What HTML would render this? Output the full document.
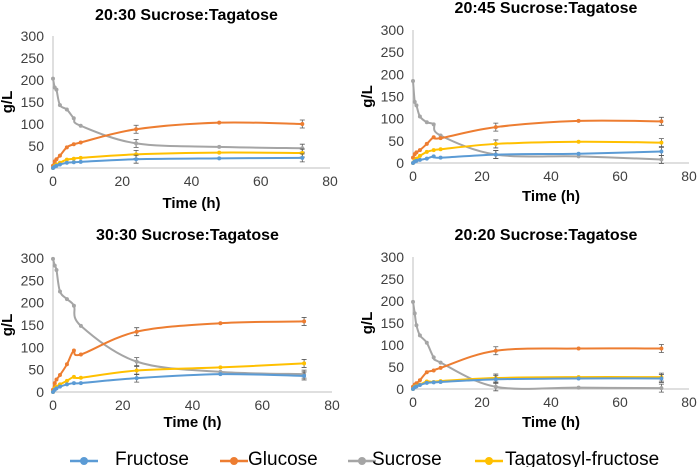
<!DOCTYPE html>
<html><head><meta charset="utf-8"><style>
body{margin:0;background:#fff;font-family:"Liberation Sans",sans-serif}
svg{display:block}
</style></head><body>
<svg id="chart" width="700" height="467" viewBox="0 0 700 467"></svg>
<script>
const times=[0,0.5,1,2,4,6,8,24,48,72];
const seriesNames=["Fructose","Glucose","Sucrose","Tagatosyl-fructose"];
const panelTitles=["20:30 Sucrose:Tagatose","20:45 Sucrose:Tagatose","30:30 Sucrose:Tagatose","20:20 Sucrose:Tagatose"];
const p1Fructose=[0,3,5,8,12,13,14,20,22,23];
const p1Glucose=[5,15,20,28,47,54,58,88,103,100];
const p1Sucrose=[203,183,178,143,133,113,96,56,48,45];
const p1Tagatosyl=[0,5,8,12,19,21,23,31,35,34];
const p2Fructose=[0,3,5,7,10,15,12,19,21,26];
const p2Glucose=[12,20,24,29,43,58,56,81,95,94];
const p2Sucrose=[185,138,130,105,92,87,62,19,15,8];
const p2Tagatosyl=[0,6,10,16,25,29,31,43,48,46];
const p3Fructose=[0,5,8,12,17,20,20,31,40,36];
const p3Glucose=[5,20,28,38,62,93,84,135,154,158];
const p3Sucrose=[298,283,273,225,208,193,148,68,45,40];
const p3Tagatosyl=[0,8,12,17,25,34,32,48,55,64];
const p4Fructose=[0,4,6,9,14,15,16,22,24,24];
const p4Glucose=[5,10,13,20,38,42,48,87,92,92];
const p4Sucrose=[198,172,145,122,105,72,60,5,3,2];
const p4Tagatosyl=[0,5,7,10,17,16,18,25,27,27];
const xTicks=[0,20,40,60,80];
const yTicks=[0,50,100,150,200,250,300];
const colors=["#5b9bd5","#ed7d31","#a5a5a5","#ffc000"];
const panelData=[[p1Fructose,p1Glucose,p1Sucrose,p1Tagatosyl],[p2Fructose,p2Glucose,p2Sucrose,p2Tagatosyl],[p3Fructose,p3Glucose,p3Sucrose,p3Tagatosyl],[p4Fructose,p4Glucose,p4Sucrose,p4Tagatosyl]];
const layouts=[{x0:53,x1:330,y0:168,y1:36,ty:20,xt:208},{x0:413,x1:689,y0:163,y1:30,ty:13,xt:201},{x0:53,x1:332,y0:392,y1:258,ty:240,xt:427},{x0:413,x1:689,y0:389,y1:257,ty:240,xt:427}];
const NS="http://www.w3.org/2000/svg";
const svg=document.getElementById('chart');
function mk(tag,attrs,parent){const e=document.createElementNS(NS,tag);for(const k in attrs)e.setAttribute(k,attrs[k]);(parent||svg).appendChild(e);return e;}
function smooth(pts){let d=`M${pts[0][0]},${pts[0][1]}`;for(let i=0;i<pts.length-1;i++){const p0=pts[i-1]||pts[i],p1=pts[i],p2=pts[i+1],p3=pts[i+2]||p2;const t=0.17;d+=` C${p1[0]+(p2[0]-p0[0])*t},${p1[1]+(p2[1]-p0[1])*t} ${p2[0]-(p3[0]-p1[0])*t},${p2[1]-(p3[1]-p1[1])*t} ${p2[0]},${p2[1]}`;}return d;}
panelData.forEach((data,pi)=>{
  const L=layouts[pi];
  const xs=v=>L.x0+(v/80)*(L.x1-L.x0);
  const ys=v=>L.y0-(v/300)*(L.y0-L.y1);
  const g=mk('g',{});
  
  
  const t=mk('text',{x:(L.x0+L.x1)/2-5,y:L.ty,'text-anchor':'middle','font-size':16,'font-weight':'bold',fill:'#000'},g);t.textContent=panelTitles[pi];
  
  
  const ax=mk('line',{x1:L.x0,y1:L.y1,x2:L.x0,y2:L.y0,stroke:'#bfbfbf','stroke-width':1},g);
  
  
  const ax2=mk('line',{x1:L.x0,y1:L.y0,x2:L.x1,y2:L.y0,stroke:'#bfbfbf','stroke-width':1},g);
  
  
  yTicks.forEach(v=>{const e=mk('text',{x:L.x0-9,y:ys(v)+5,'text-anchor':'end','font-size':14,fill:'#404040'},g);e.textContent=v;
    
    });
  xTicks.forEach(v=>{const e=mk('text',{x:xs(v),y:L.y0+18,'text-anchor':'middle','font-size':14,fill:'#404040'},g);e.textContent=v;
    
    });
  const xt=mk('text',{x:(L.x0+L.x1)/2,y:L.xt,'text-anchor':'middle','font-size':15,'font-weight':'bold',fill:'#000'},g);xt.textContent='Time (h)';
  
  
  const cy=(L.y0+L.y1)/2,cx=L.x0-41;
  const yt=mk('text',{x:cx,y:cy,transform:`rotate(-90 ${cx} ${cy})`,'text-anchor':'middle','font-size':15,'font-weight':'bold',fill:'#000'},g);yt.textContent='g/L';
  
  
  [2,1,3,0].forEach(si=>{
    const vals=data[si];
    const pts=times.map((tv,i)=>[xs(tv),ys(vals[i])]);
    const p=mk('path',{d:smooth(pts),fill:'none',stroke:colors[si],'stroke-width':2},g);
    
    
    pts.forEach((q,i)=>{
      if(i>=6&&i%2===1||i===7){const eb=mk('path',{d:`M${q[0]},${q[1]-4}V${q[1]+4}M${q[0]-2.5},${q[1]-4}h5M${q[0]-2.5},${q[1]+4}h5`,stroke:'#595959','stroke-width':0.8,fill:'none'},g);
        
        }
      const c=mk('circle',{cx:q[0],cy:q[1],r:2,fill:colors[si]},g);
      
      
    });
  });
});
const legX=[70,220,348,475],legTX=[115,248,372,505];
seriesNames.forEach((n,i)=>{
  const g=mk('g',{});
  
  
  mk('line',{x1:legX[i],y1:461,x2:legX[i]+28,y2:461,stroke:colors[i],'stroke-width':2.5},g);
  mk('circle',{cx:legX[i]+14,cy:461,r:4,fill:colors[i]},g);
  const t=mk('text',{x:legTX[i],y:465,'font-size':19,fill:'#000'},g);t.textContent=n;
});
</script>
</body></html>
